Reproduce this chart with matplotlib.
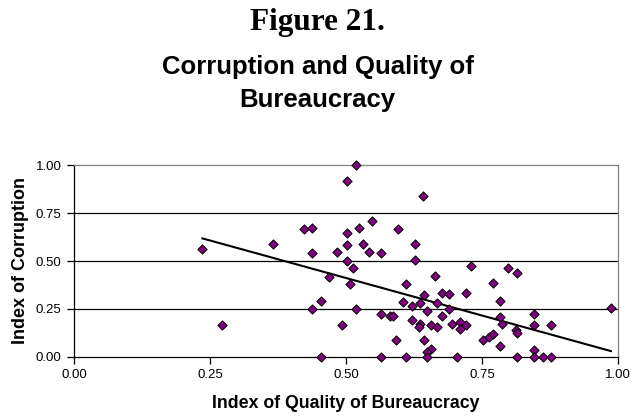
import numpy as np
from matplotlib import pyplot as plt

# index of quality of bureaucracy (x) and index of corruption (y)
bureaucracy = [
    0.236, 0.272, 0.366, 0.423, 0.438, 0.438, 0.483, 0.469, 0.454, 0.438,
    0.454, 0.518, 0.502, 0.642, 0.548, 0.523, 0.502, 0.596, 0.502, 0.532,
    0.543, 0.564, 0.626, 0.626, 0.502, 0.513, 0.729, 0.664, 0.508, 0.611,
    0.643, 0.676, 0.689, 0.720, 0.604, 0.636, 0.622, 0.668, 0.518, 0.649,
    0.689, 0.676, 0.564, 0.581, 0.587, 0.621, 0.493, 0.636, 0.634, 0.656,
    0.667, 0.694, 0.710, 0.720, 0.710, 0.591, 0.643, 0.657, 0.648, 0.648,
    0.564, 0.611, 0.704, 0.751, 0.762, 0.771, 0.798, 0.814, 0.770, 0.783,
    0.987, 0.783, 0.846, 0.787, 0.846, 0.877, 0.813, 0.814, 0.783, 0.846,
    0.814, 0.846, 0.862, 0.877,
]
corruption = [
    0.563, 0.164, 0.587, 0.667, 0.671, 0.543, 0.549, 0.415, 0.293, 0.248,
    0.000, 1.000, 0.916, 0.838, 0.711, 0.671, 0.645, 0.669, 0.582, 0.589,
    0.545, 0.543, 0.587, 0.504, 0.502, 0.462, 0.475, 0.422, 0.378, 0.378,
    0.321, 0.331, 0.328, 0.331, 0.288, 0.282, 0.265, 0.279, 0.249, 0.237,
    0.249, 0.213, 0.225, 0.213, 0.211, 0.190, 0.164, 0.171, 0.155, 0.164,
    0.154, 0.169, 0.183, 0.167, 0.143, 0.086, 0.086, 0.040, 0.025, 0.000,
    0.000, 0.000, 0.000, 0.086, 0.105, 0.119, 0.462, 0.439, 0.383, 0.291,
    0.253, 0.206, 0.225, 0.171, 0.164, 0.164, 0.139, 0.125, 0.058, 0.033,
    0.000, 0.000, 0.000, 0.000,
]
ticks = [0.0, 0.25, 0.5, 0.75, 1.0]

plt.rcParams["font.family"] = ["Liberation Sans", "DejaVu Sans"]

x = np.array(bureaucracy)
y = np.array(corruption)

fig = plt.figure(figsize=(6.35, 4.16), dpi=100)
ax = fig.add_axes([74 / 635, 1 - 356.7 / 416, (618 - 74) / 635, (356.7 - 165.3) / 416])

# gridlines
for t in ticks[1:-1]:
    ax.axhline(t, color="black", lw=0.9, zorder=1)

ax.scatter(x, y, marker="D", s=22, facecolor="#800080", edgecolor="black",
           linewidths=0.7, zorder=3, clip_on=False)

# linear trend line
slope, intercept = np.polyfit(x, y, 1)
xs = np.array([x.min(), x.max()])
ax.plot(xs, slope * xs + intercept, color="black", lw=1.5, zorder=2)

ax.set_xlim(0, 1)
ax.set_ylim(0, 1)
ax.set_xticks(ticks)
ax.set_yticks(ticks)
ax.set_xticklabels([f"{t:.2f}" for t in ticks], fontsize=9.5)
ax.set_yticklabels([f"{t:.2f}" for t in ticks], fontsize=9.5)
ax.tick_params(direction="out", length=5, width=0.9, color="black", pad=4)

for side in ("top", "right"):
    ax.spines[side].set_color("#808080")
    ax.spines[side].set_linewidth(0.9)
for side in ("left", "bottom"):
    ax.spines[side].set_color("black")
    ax.spines[side].set_linewidth(0.9)

ax.set_xlabel("Index of Quality of Bureaucracy", fontsize=12.8, fontweight="bold", labelpad=10)
ax.set_ylabel("Index of Corruption", fontsize=13, fontweight="bold", labelpad=5)

fig.text(0.5, 1 - 30 / 416, "Figure 21.", ha="center", va="baseline",
         fontsize=22.5, fontweight="bold", family=["Liberation Serif", "DejaVu Serif"])
fig.text(0.5, 1 - 74 / 416, "Corruption and Quality of", ha="center", va="baseline",
         fontsize=18.5, fontweight="bold")
fig.text(0.5, 1 - 106.7 / 416, "Bureaucracy", ha="center", va="baseline",
         fontsize=18.5, fontweight="bold")

fig.savefig("out.png", dpi=100)
